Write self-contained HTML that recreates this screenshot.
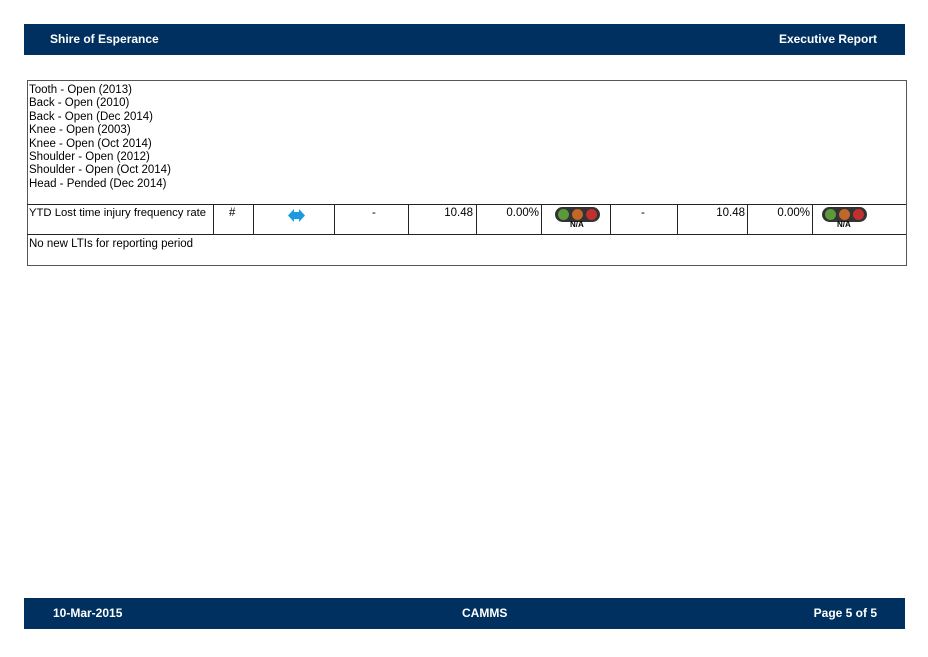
<!DOCTYPE html>
<html><head><style>
body{margin:0;width:928px;height:657px;background:#fff;position:relative;font-family:"Liberation Sans",sans-serif;overflow:hidden}
.bar{position:absolute;left:24px;width:881px;height:31px;background:#00305f;color:#fff;font-weight:bold;font-size:12px;line-height:31px}
.a{position:absolute;font-size:11.5px;color:#000;white-space:nowrap}
.r{text-align:right}
.v{position:absolute;top:204px;width:1px;height:30px;background:#222}
.tl{position:absolute;top:207px;width:45px;height:15px;background:#333;border-radius:8px}
.tl i{position:absolute;top:2px;width:11px;height:11px;border-radius:50%}
.na{position:absolute;top:220px;font-size:8px;font-weight:bold}
</style></head><body>
<div class="bar" style="top:24px"><span style="position:absolute;left:26px">Shire of Esperance</span><span style="position:absolute;right:28px">Executive Report</span></div>
<div class="bar" style="top:598px"><span style="position:absolute;left:29px">10-Mar-2015</span><span style="position:absolute;left:438px">CAMMS</span><span style="position:absolute;right:28px">Page 5 of 5</span></div>
<div style="position:absolute;left:27px;top:80px;width:878px;height:184px;border:1px solid #555"></div>
<div style="position:absolute;left:27px;top:204px;width:879px;height:1px;background:#222"></div>
<div style="position:absolute;left:27px;top:234px;width:879px;height:1px;background:#222"></div>
<div class="a" style="left:29px;top:84px;line-height:13.4px">Tooth - Open (2013)<br>Back - Open (2010)<br>Back - Open (Dec 2014)<br>Knee - Open (2003)<br>Knee - Open (Oct 2014)<br>Shoulder - Open (2012)<br>Shoulder - Open (Oct 2014)<br>Head - Pended (Dec 2014)</div>
<div class="v" style="left:213px"></div><div class="v" style="left:253px"></div><div class="v" style="left:334px"></div><div class="v" style="left:408px"></div><div class="v" style="left:476px"></div><div class="v" style="left:541px"></div><div class="v" style="left:610px"></div><div class="v" style="left:677px"></div><div class="v" style="left:747px"></div><div class="v" style="left:812px"></div>
<div class="a" style="left:29px;top:207px;font-size:11.3px">YTD Lost time injury frequency rate</div>
<div class="a" style="left:229px;top:207px">#</div>
<svg style="position:absolute;left:288px;top:209px" width="17" height="13"><polygon points="0,6.5 6,0 6,3 11,3 11,0 17,6.5 11,13 11,10 6,10 6,13" fill="#1a9be0"/></svg>
<div class="a" style="left:372px;top:207px">-</div>
<div class="a r" style="left:420px;width:53px;top:207px">10.48</div>
<div class="a r" style="left:480px;width:59px;top:207px">0.00%</div>
<div class="tl" style="left:555px"><i style="left:3px;background:#5a9a3c"></i><i style="left:17px;background:#c0672a"></i><i style="left:31px;background:#c03030"></i></div><div class="na" style="left:570px">N/A</div>
<div class="a" style="left:641px;top:207px">-</div>
<div class="a r" style="left:690px;width:55px;top:207px">10.48</div>
<div class="a r" style="left:750px;width:60px;top:207px">0.00%</div>
<div class="tl" style="left:822px"><i style="left:3px;background:#5a9a3c"></i><i style="left:17px;background:#c0672a"></i><i style="left:31px;background:#c03030"></i></div><div class="na" style="left:837px">N/A</div>
<div class="a" style="left:29px;top:238px">No new LTIs for reporting period</div>
</body></html>
